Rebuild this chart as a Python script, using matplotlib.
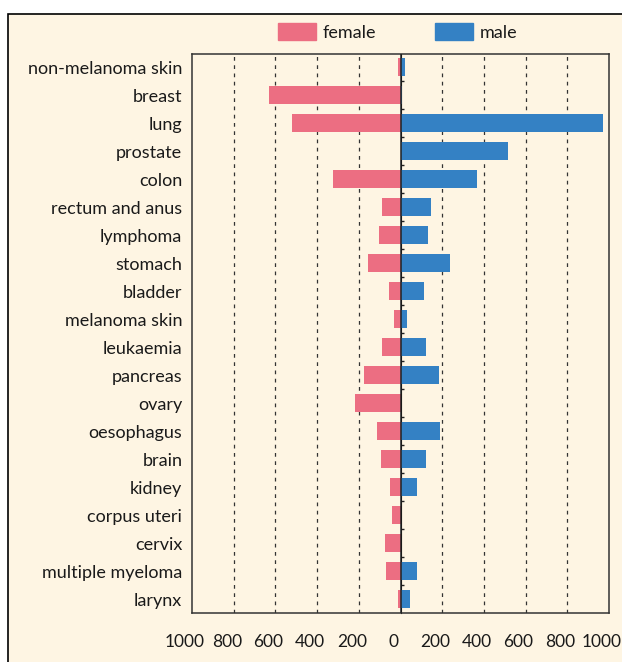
import matplotlib.pyplot as plt
from matplotlib.patches import Rectangle, Patch
from matplotlib.ticker import FuncFormatter
from matplotlib.transforms import ScaledTranslation
import numpy as np

sites = ['non-melanoma skin', 'breast', 'lung', 'prostate', 'colon',
         'rectum and anus', 'lymphoma', 'stomach', 'bladder', 'melanoma skin',
         'leukaemia', 'pancreas', 'ovary', 'oesophagus', 'brain', 'kidney',
         'corpus uteri', 'cervix', 'multiple myeloma', 'larynx']
female = [12, 632, 521, 0, 325, 90, 104, 157, 56, 32,
          90, 176, 219, 114, 94, 51, 42, 75, 70, 12]
male = [22, 5, 970, 515, 368, 144, 131, 236, 112, 30,
        122, 184, 3, 189, 122, 78, 3, 3, 78, 45]
x_ticks = [-1000, -800, -600, -400, -200, 0, 200, 400, 600, 800, 1000]

bg = '#fef5e3'
pink = '#ec6e82'
blue = '#3481c4'

plt.rcParams['font.family'] = ['Lato', 'DejaVu Sans']

fig = plt.figure(figsize=(6.22, 6.62), dpi=100, facecolor='white')
fig.patches.append(Rectangle((8 / 622, -0.1), 1.2, 1 - 14 / 662 + 0.1,
                             transform=fig.transFigure, facecolor=bg,
                             edgecolor='black', linewidth=1.2, zorder=-10))

ax = fig.add_axes([192 / 622, 49 / 662, 417 / 622, 559 / 662])
ax.set_facecolor(bg)

y = np.arange(len(sites))
ax.barh(y, -np.array(female), height=0.65, color=pink, zorder=2)
ax.barh(y, male, height=0.65, color=blue, zorder=2)
ax.axvline(0, color='#222222', linewidth=1.1, zorder=3)

for v in x_ticks:
    if v not in (-1000, 0, 1000):
        ax.axvline(v, color='#333333', linewidth=0.9, linestyle=(0, (3.0, 3.6)), zorder=1)

ax.set_xlim(-1000, 1000)
ax.set_ylim(len(sites) - 0.5, -0.47)
ax.set_yticks(y)
ax.set_yticklabels(sites, fontsize=13, color='#1a1a1a')
ax.tick_params(axis='y', length=0, pad=7)
ax.set_xticks(x_ticks)
ax.xaxis.set_major_formatter(FuncFormatter(lambda v, p: f'{abs(int(v))}'))
ax.tick_params(axis='x', length=0, pad=15, labelsize=12.5, labelcolor='#1a1a1a')
shift = ScaledTranslation(-7 / 100, 0, fig.dpi_scale_trans)
for lab in ax.get_xticklabels():
    lab.set_transform(lab.get_transform() + shift)

for s in ax.spines.values():
    s.set_color('#333333')
    s.set_linewidth(1.1)

# small ticks on the zero line between categories
mid = ax.secondary_yaxis(0.5)
mid.set_yticks(np.arange(len(sites) - 1) + 0.5)
mid.set_yticklabels([])
mid.tick_params(length=2.5, width=1, color='#222222')
mid.spines['left'].set_visible(False)

fig.legend(handles=[Patch(color=pink, label='female'), Patch(color=blue, label='male')],
           loc='center', bbox_to_anchor=(397.5 / 622, 1 - 32 / 662), ncol=2,
           frameon=False, fontsize=13, handlelength=2.1, handleheight=1.1,
           handletextpad=0.35, columnspacing=3.3, labelcolor='#1a1a1a',
           borderpad=0, borderaxespad=0)

fig.savefig('out.png', dpi=100, facecolor='white')
